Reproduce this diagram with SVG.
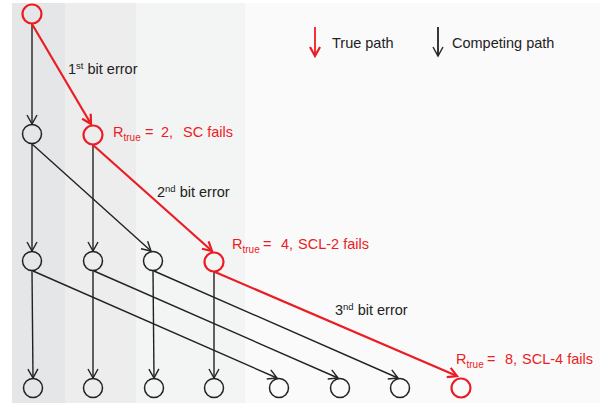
<svg xmlns="http://www.w3.org/2000/svg" width="606" height="407" viewBox="0 0 606 407">
<style>
text{font-family:"Liberation Sans",Arial,sans-serif;font-size:14.5px;fill:#222;white-space:pre}
.red{fill:#ec1c24}
.sub{font-size:10px}
.n{fill:none;stroke:#222;stroke-width:1.5}
.nr{fill:none;stroke:#ec1c24;stroke-width:2.2}
.e{stroke:#222;stroke-width:1.4;fill:none;marker-end:url(#ak)}
.er{stroke:#ec1c24;stroke-width:2.2;fill:none;marker-end:url(#ar)}
</style>
<defs>
<marker id="ak" markerUnits="userSpaceOnUse" markerWidth="14" markerHeight="14" viewBox="-11 -7 14 14" refX="0" refY="0" orient="auto" overflow="visible">
<path d="M-9,-5 L0,0 L-9,5" fill="none" stroke="#222" stroke-width="1.4"/>
</marker>
<marker id="ar" markerUnits="userSpaceOnUse" markerWidth="14" markerHeight="14" viewBox="-11 -7 14 14" refX="0" refY="0" orient="auto" overflow="visible">
<path d="M-9,-5 L0,0 L-9,5" fill="none" stroke="#ec1c24" stroke-width="2.2"/>
</marker>
</defs>
<g id="background">
<rect x="12" y="3" width="588" height="400" fill="#fafafa"/>
<rect x="12" y="3" width="233" height="400" fill="#f3f4f4"/>
<rect x="12" y="3" width="124" height="400" fill="#ededee"/>
<rect x="12" y="3" width="53" height="400" fill="#e5e6e8"/>
</g>
<g id="connectors">
<line class="e" x1="32" y1="24" x2="32" y2="124"/>
<line class="er" x1="32" y1="24" x2="91" y2="124"/>
<line class="e" x1="32" y1="144" x2="32" y2="251"/>
<line class="e" x1="32" y1="144" x2="151" y2="251"/>
<line class="e" x1="93" y1="145" x2="93" y2="251"/>
<line class="er" x1="93" y1="145" x2="212" y2="251"/>
<line class="e" x1="32" y1="271" x2="33" y2="378"/>
<line class="e" x1="33" y1="271" x2="277" y2="378"/>
<line class="e" x1="93" y1="271" x2="93" y2="378"/>
<line class="e" x1="94" y1="271" x2="338" y2="378"/>
<line class="e" x1="153" y1="271" x2="154" y2="378"/>
<line class="e" x1="154" y1="271" x2="398" y2="378"/>
<line class="e" x1="214" y1="272" x2="214" y2="378"/>
<line class="er" x1="215" y1="272" x2="457" y2="376"/>
</g>
<g id="n0"><circle class="nr" cx="32" cy="14" r="9.5"/></g>
<g id="n1a"><circle class="n" cx="32" cy="134" r="9.5"/></g>
<g id="n1b"><circle class="nr" cx="93" cy="135" r="9.5"/></g>
<g id="n2a"><circle class="n" cx="32" cy="261" r="9.5"/></g>
<g id="n2b"><circle class="n" cx="93" cy="261" r="9.5"/></g>
<g id="n2c"><circle class="n" cx="153" cy="261" r="9.5"/></g>
<g id="n2d"><circle class="nr" cx="214" cy="262" r="9.5"/></g>
<g id="n3a"><circle class="n" cx="33" cy="388" r="9.5"/></g>
<g id="n3b"><circle class="n" cx="93" cy="388" r="9.5"/></g>
<g id="n3c"><circle class="n" cx="154" cy="388" r="9.5"/></g>
<g id="n3d"><circle class="n" cx="214" cy="388" r="9.5"/></g>
<g id="n3e"><circle class="n" cx="279" cy="388" r="9.5"/></g>
<g id="n3f"><circle class="n" cx="340" cy="388" r="9.5"/></g>
<g id="n3g"><circle class="n" cx="400" cy="388" r="9.5"/></g>
<g id="n3h"><circle class="nr" cx="461" cy="388" r="9.5"/></g>
<g id="labels">
<text x="68" y="74">1<tspan font-size="9.5" dy="-5">st</tspan><tspan dy="5"> bit error</tspan></text>
<text x="157" y="197">2<tspan font-size="9.5" dy="-5">nd</tspan><tspan dy="5"> bit error</tspan></text>
<text x="335" y="315">3<tspan font-size="9.5" dy="-5">nd</tspan><tspan dy="5"> bit error</tspan></text>
<text class="red" x="113" y="137">R<tspan class="sub" x="123.5" y="141">true</tspan><tspan x="145" y="137">=</tspan><tspan x="161" y="137">2,</tspan><tspan x="183" y="137">SC fails</tspan></text>
<text class="red" x="232" y="249">R<tspan class="sub" x="242.5" y="253">true</tspan><tspan x="263" y="249">=</tspan><tspan x="281" y="249">4,</tspan><tspan x="298" y="249">SCL-2 fails</tspan></text>
<text class="red" x="456" y="364">R<tspan class="sub" x="466.5" y="368">true</tspan><tspan x="487" y="364">=</tspan><tspan x="505" y="364">8,</tspan><tspan x="522" y="364">SCL-4 fails</tspan></text>
</g>
<g id="legend">
<line class="er" x1="315" y1="27" x2="315" y2="56" style="stroke-width:1.8"/>
<text x="332" y="48">True path</text>
<line class="e" x1="438" y1="27" x2="438" y2="56" style="stroke-width:1.8"/>
<text x="452" y="48">Competing path</text>
</g>
</svg>
